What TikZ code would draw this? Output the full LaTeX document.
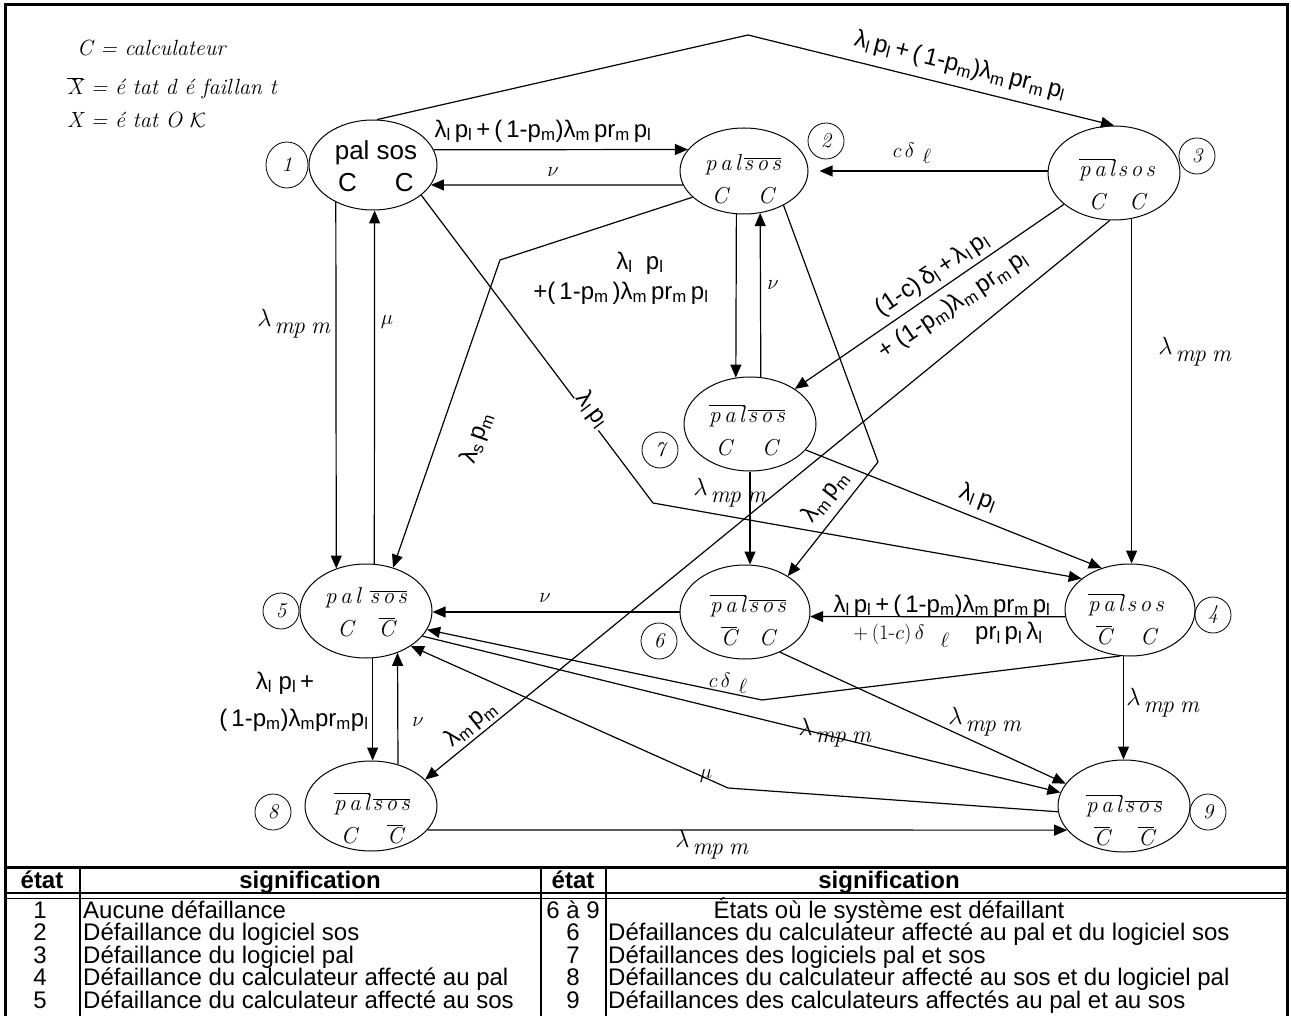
\documentclass[tikz,border=0pt]{standalone}
\usepackage{fontspec}
\setsansfont{Liberation Sans}
\usetikzlibrary{shapes.geometric,arrows.meta}
\newcommand\lsub[1]{\textsubscript{#1}}
\newcommand\ob[1]{\ensuremath{\overline{\mbox{#1}}}}
\newcommand\PAL{p\kern3.5pt a\kern3.5pt l}
\newcommand\SOS{s\kern3.5pt o\kern3.5pt s}
\newcommand\formA{λ\lsub{l}\,p\lsub{l}\,+\,(\,1-p\lsub{m})λ\lsub{m}\,pr\lsub{m}\,p\lsub{l}}
\newcommand\lmpm{{\fontsize{24}{24}\selectfont\raisebox{7pt}{$\lambda$}\kern3pt\textit{m\kern-1pt p\kern6pt m}}}
\begin{document}
\begin{tikzpicture}[x=1pt,y=-1pt,
  stell/.style 2 args={ellipse, draw, line width=1pt, inner sep=0pt, minimum width=#1, minimum height=#2},
  stxt/.style={align=center, inner sep=0pt, font=\fontsize{23}{33}\selectfont\itshape},
  numlab/.style={ellipse, draw, line width=0.8pt, inner sep=0pt, minimum width=36pt, minimum height=36pt, font=\fontsize{21}{21}\selectfont\itshape},
  conn/.style={line width=1.2pt},
  arr/.style={conn, -{Triangle[length=13pt,width=11pt]}},
  lab/.style={inner sep=1pt, font=\fontsize{22}{22}\selectfont},
  glab/.style={inner sep=1pt, font=\fontsize{24}{28}\selectfont\sffamily},
  tab/.style={inner sep=0pt, anchor=base, font=\fontsize{24}{24}\selectfont\sffamily},
  tabl/.style={inner sep=0pt, anchor=base west, font=\fontsize{24}{24}\selectfont\sffamily},
  tabh/.style={inner sep=0pt, anchor=base, font=\fontsize{24}{24}\selectfont\sffamily\bfseries},
  leg/.style={inner sep=0pt, anchor=base west, font=\fontsize{22}{22}\selectfont\itshape}
]
\useasboundingbox (0,0) rectangle (1291,1016);
\fill[white] (0,0) rectangle (1291,1016);
% frame
\draw[line width=3pt, line join=miter] (5,1020) -- (5,5) -- (1287,5) -- (1287,1020);
% table lines
\draw[line width=3pt] (5,867) -- (1287,867);
\draw[line width=2.5pt] (5,893) -- (1287,893);
\draw[line width=1pt] (5,898) -- (1287,898);
\draw[line width=1.5pt] (80,867) -- (80,1016);
\draw[line width=1.5pt] (541,867) -- (541,1016);
\draw[line width=1.5pt] (606,867) -- (606,1016);

% legend
\node[leg] (lg1) at (77,56) {C = calculateur};
\node[leg] (lg2) at (67,95) {\ob{X} = é tat d é faillan t};
\node[leg] (lg3) at (67,128) {X = é tat O $\mathcal{K}$};

% states
\node[stell={128pt}{90pt}] (n1) at (373,165) {};
\node[stell={128pt}{86pt}] (n2) at (744,171) {};
\node[stell={132pt}{94pt}] (n3) at (1114,173) {};
\node[stell={132pt}{94pt}] (n7) at (750,424) {};
\node[stell={132pt}{94pt}] (n5) at (366,611) {};
\node[stell={130pt}{94pt}] (n6) at (745,612) {};
\node[stell={130pt}{92pt}] (n4) at (1130,610) {};
\node[stell={132pt}{90pt}] (n8) at (371,806) {};
\node[stell={132pt}{92pt}] (n9) at (1124,806) {};

\node[stxt, font=\fontsize{26}{32}\selectfont\sffamily] (t1) at (376,166) {pal sos\\C\hspace{38pt}C};
\node[stxt] (t2) at (743,179) {\PAL\kern3pt\ob{\SOS}\\C\hspace{30pt}C};
\node[stxt] (t3) at (1117,184) {\ob{\PAL}\kern3pt\SOS\\C\hspace{24pt}C};
\node[stxt] (t7) at (747,430) {\ob{\PAL}\kern3pt\ob{\SOS}\\C\hspace{30pt}C};
\node[stxt] (t5) at (366,612) {\PAL\kern9pt\ob{\SOS}\\C\hspace{25pt}\ob{C}};
\node[stxt] (t6) at (748,620) {\ob{\PAL}\kern3pt\ob{\SOS}\\\ob{C}\hspace{22pt}C};
\node[stxt] (t4) at (1126,619) {\ob{\PAL}\kern3pt\SOS\\\ob{C}\hspace{28pt}C};
\node[stxt] (t8) at (372,818) {\ob{\PAL}\kern3pt\ob{\SOS}\\C\hspace{30pt}\ob{C}};
\node[stxt] (t9) at (1124,820) {\ob{\PAL}\kern3pt\ob{\SOS}\\\ob{C}\hspace{28pt}\ob{C}};

% number circles
\node[numlab, minimum width=42pt, minimum height=46pt] (c1) at (287,165) {1};
\node[numlab] (c2) at (826,141) {2};
\node[numlab] (c3) at (1197,156) {3};
\node[numlab] (c7) at (660,450) {7};
\node[numlab] (c5) at (281,611) {5};
\node[numlab] (c6) at (659,641) {6};
\node[numlab] (c4) at (1213,615) {4};
\node[numlab] (c8) at (273,812) {8};
\node[numlab] (c9) at (1208,812) {9};

% edges
\coordinate (k1) at (748,35);
\draw[arr] (n1.85) -- (k1) -- (n3.north);
\node[glab, rotate=-14] (L1) at (960,66) {\formA};

\draw[arr] (n1.14) -- (n2.159.4);
\node[glab] (L2) at (543,131) {\formA};

\draw[arr] (n2.193) -- (n1.-19.3);
\node[lab] (L3) at (553,172) {$\nu$};

\draw[arr, shorten >=11pt] (n3.west |- n2.east) -- (n2.east);
\node[lab] (L4) at (912,153) {$c\,\delta$\hspace{8pt}\raisebox{-6pt}{$\ell$}};

\draw[arr] (n1.-135) -- (n5.125.6);
\node[lab] (L5) at (294,324) {\lmpm};

\draw[arr] (n5.80.3) -- (n1.-88);
\node[lab] (L6) at (387,322) {$\mu$};

\coordinate (k7) at (653,503);
\draw[arr] (n1.-32.6) -- (k7) -- (n4.147);
\node[glab, fill=white, rotate=-53] (L7) at (592,410) {λ\lsub{l}\,p\lsub{l}};

\coordinate (k8) at (500,260);
\draw[arr] (n2.207.4) -- (k8) -- (n5.58.96);
\node[glab, rotate=70.7] (L8) at (477,438) {λ\lsub{s}\,p\lsub{m}};

\draw[arr] (n2.-100.6) -- (n7.107);
\node[glab] (L9a) at (640,263) {λ\lsub{l}\;\;p\lsub{l}};
\node[glab] (L9b) at (621,293) {+(\,1-p\lsub{m}\,)λ\lsub{m}\,pr\lsub{m}\,p\lsub{l}};

\draw[arr] (n7.77.9) -- (n2.-69);
\node[lab] (L10) at (773,285) {$\nu$};

\coordinate (k11) at (878,462);
\draw[arr] (n2.-41) -- (k11) -- (n6.40);
\node[glab, rotate=52] (L11) at (826,497) {λ\lsub{m}\,p\lsub{m}};

\draw[arr] (n3.212) -- (n7.38);
\node[glab, rotate=34, align=center] (L12) at (943,290) {(1-c)\,δ\lsub{l}\,+\,λ\lsub{l}\,p\lsub{l}\\[9pt] + (1-p\lsub{m})λ\lsub{m}\,pr\lsub{m}\,p\lsub{l}};

\draw[arr] (n3.-95) -- (n8.26);
\node[glab, rotate=39] (L13) at (471,724) {λ\lsub{m}\,p\lsub{m}};

\draw[arr] (n3.-69.5) -- (n3.-69.5 |- n4.north);
\node[lab] (L14) at (1195,352) {\lmpm};

\draw[arr] (n7.south) -- (n7.south |- n6.north);
\node[lab] (L15) at (730,493) {\lmpm};

\draw[arr] (n7.-25) -- (n4.124.7);
\node[glab, rotate=-20] (L16) at (978,498) {λ\lsub{l}\,p\lsub{l}};

\draw[arr] (n6.west) -- (n6.west -| n5.east);
\node[lab] (L17) at (545,598) {$\nu$};

\draw[arr] (n4.186.2) -- (n6.-4.4);
\node[glab] (L18a) at (942,606) {\formA};
\node[lab] (L18b) at (948,635) {$+\,(1\mbox{-}c)\,\delta$\hspace{16pt}\raisebox{-8pt}{$\ell$}\hspace{26pt}{\sffamily\fontsize{24}{24}\selectfont pr\lsub{l}\,p\lsub{l}\,λ\lsub{l}}};

\coordinate (k19) at (762,700);
\draw[arr] (n4.-102) -- (k19) -- (n5.-17);
\node[lab] (L19) at (728,683) {$c\,\delta$\hspace{8pt}\raisebox{-6pt}{$\ell$}};

\draw[arr] (n5.-24.7) -- (n9.168.9);
\node[lab] (L20) at (835,733) {\lmpm};

\coordinate (k21) at (728,788);
\draw[arr] (n9.185) -- (k21) -- (n5.-38);
\node[lab] (L21) at (706,776) {$\mu$};

\draw[arr] (n6.-49) -- (n9.159.6);
\node[lab] (L22) at (985,722) {\lmpm};

\draw[arr] (n4.-98.7) -- (n4.-98.7 |- n9.north);
\node[lab] (L23) at (1163,703) {\lmpm};

\draw[arr] (n5.-82) -- (n5.-82 |- n8.north);
\node[glab] (L24a) at (285,683) {λ\lsub{l}\;p\lsub{l}\,+};
\node[glab] (L24b) at (294,720) {(\,1-p\lsub{m})λ\lsub{m}pr\lsub{m}p\lsub{l}};

\draw[arr] (n8.57.9) -- (n5.-53.2);
\node[lab] (L25) at (418,722) {$\nu$};

\draw[arr] (n8.-23.3) -- (n9.203.1);
\node[lab] (L26) at (712,845) {\lmpm};

% table text
\node[tabh] (h1) at (42,888) {état};
\node[tabh] (h2) at (310,888) {signification};
\node[tabh] (h3) at (573,888) {état};
\node[tabh] (h4) at (889,888) {signification};

\node[tab] (a1) at (40,918) {1};
\node[tab] (a2) at (40,940.5) {2};
\node[tab] (a3) at (40,963) {3};
\node[tab] (a4) at (40,985.5) {4};
\node[tab] (a5) at (40,1008) {5};
\node[tabl] (b1) at (83,918) {Aucune défaillance};
\node[tabl] (b2) at (83,940.5) {Défaillance du logiciel sos};
\node[tabl] (b3) at (83,963) {Défaillance du logiciel pal};
\node[tabl] (b4) at (83,985.5) {Défaillance du calculateur affecté au pal};
\node[tabl] (b5) at (83,1008) {Défaillance du calculateur affecté au sos};
\node[tab] (c1t) at (573,918) {6 à 9};
\node[tab] (c2t) at (573,940.5) {6};
\node[tab] (c3t) at (573,963) {7};
\node[tab] (c4t) at (573,985.5) {8};
\node[tab] (c5t) at (573,1008) {9};
\node[tab] (d1) at (889,918) {États où le système est défaillant};
\node[tabl] (d2) at (608,940.5) {Défaillances du calculateur affecté au pal et du logiciel sos};
\node[tabl] (d3) at (608,963) {Défaillances des logiciels pal et sos};
\node[tabl] (d4) at (608,985.5) {Défaillances du calculateur affecté au sos et du logiciel pal};
\node[tabl] (d5) at (608,1008) {Défaillances des calculateurs affectés au pal et au sos};
\end{tikzpicture}
\end{document}
